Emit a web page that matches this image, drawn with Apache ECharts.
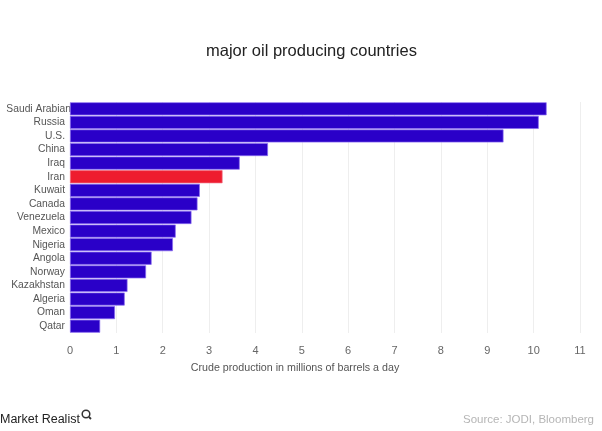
<!DOCTYPE html>
<html><head><meta charset="utf-8">
<style>html,body{margin:0;padding:0;background:#fff}#c{width:602px;height:431px}</style>
<script src="https://cdn.jsdelivr.net/npm/echarts@6/dist/echarts.min.js"></script>
</head><body><div id="c"></div>
<script>
const categories = ["Saudi Arabian","Russia","U.S.","China","Iraq","Iran","Kuwait","Canada","Venezuela","Mexico","Nigeria","Angola","Norway","Kazakhstan","Algeria","Oman","Qatar"];
const production = [10.28,10.11,9.35,4.27,3.66,3.29,2.8,2.75,2.62,2.28,2.22,1.76,1.64,1.24,1.18,0.97,0.65];
const highlighted = "Iran";
const overlongLabel = "Saudi Arabian";
const titleText = "major oil producing countries";
const axisTitle = "Crude production in millions of barrels a day";
const sourceText = "Source: JODI, Bloomberg";
const brandText = "Market Realist";
const font = "Liberation Sans";
const chart = echarts.init(document.getElementById('c'), null, {renderer:'canvas'});
chart.setOption({
  animation:false,
  backgroundColor:'#fff',
  textStyle:{fontFamily:font},
  title:{text:titleText,left:201,top:38,itemGap:0,
    textStyle:{fontFamily:font,fontSize:16.5,fontWeight:'normal',color:'#222'}},
  grid:{left:70,top:102,width:510,height:231,outerBoundsMode:'none'},
  xAxis:{type:'value',min:0,max:11,interval:1,position:'bottom',
    name:axisTitle,nameLocation:'middle',nameGap:30,
    nameTextStyle:{fontSize:10.7,color:'#555',fontFamily:font,padding:[0,60,0,0]},
    axisLine:{show:false},axisTick:{show:false},
    axisLabel:{fontSize:11,color:'#666',margin:12,fontFamily:font},
    splitLine:{show:true,lineStyle:{color:'#eeeeee',width:1}}},
  yAxis:{type:'category',inverse:true,
    data:categories.map(c=>c===overlongLabel?{value:c,textStyle:{padding:[0,-6,0,0]}}:c),
    axisLine:{show:false},axisTick:{show:false},
    axisLabel:{fontSize:10.3,color:'#555',margin:5,interval:0,fontFamily:font},
    splitLine:{show:false}},
  series:[{type:'bar',barWidth:13,
    data:production.map((v,i)=>({value:v,itemStyle:{
      color:categories[i]===highlighted?'#ee1c2e':'#2a00c8',
      borderColor:categories[i]===highlighted?'#f06a80':'#8a6cf0',borderWidth:0.7}}))}],
  graphic:[
    {type:'text',left:0,top:413,style:{text:brandText,fontFamily:font,fontSize:12.5,fill:'#222'}},
    {type:'circle',shape:{cx:86,cy:414,r:3.8},style:{fill:'none',stroke:'#333',lineWidth:1.5}},
    {type:'line',shape:{x1:89,y1:417,x2:91,y2:419},style:{stroke:'#333',lineWidth:1.8}},
    {type:'text',right:8,top:414,style:{text:sourceText,fontFamily:font,fontSize:11.5,fill:'#b5b5b5'}}
  ]
});
</script></body></html>
